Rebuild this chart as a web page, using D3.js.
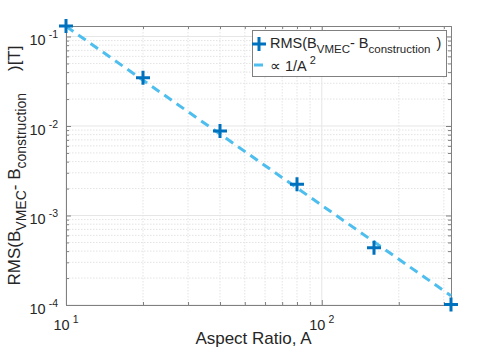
<!DOCTYPE html>
<html>
<head>
<meta charset="utf-8">
<script src="https://cdn.jsdelivr.net/npm/d3@7"></script>
<style>
  body { margin: 0; background: #fff; }
  text { font-family: "Liberation Sans", Arial, sans-serif; fill: #262626; }
</style>
</head>
<body>
<svg id="chart" width="498" height="354"></svg>
<script>
// data
const aspectRatio = [10, 20, 40, 80, 160, 320];
const rmsError = [0.131, 0.0347, 0.0088, 0.00224, 0.000436, 0.000101];
const fitConst = 13; // ∝ 1/A^2
const xMajor = [10, 100];
const yMajor = [1e-4, 1e-3, 1e-2, 1e-1];

const svg = d3.select('#chart');
const pL = 66, pR = 451, pT = 26, pB = 305;

const x = d3.scaleLog().domain([10, 320]).range([pL, pR]);
const y = d3.scaleLog().domain([1e-4, 0.131]).range([pB, pT]);

const xMinor = [];
for (let d = 10; d <= 100; d *= 10)
  for (let k = 2; k <= 9; k++) if (k * d <= 320) xMinor.push(k * d);
const yMinor = [];
for (let d = 1e-4; d < 0.1; d *= 10)
  for (let k = 2; k <= 9; k++) yMinor.push(k * d);

// grid
const grid = svg.append('g');
grid.selectAll('.xminor').data(xMinor).enter().append('line')
  .attr('x1', d => x(d)).attr('x2', d => x(d)).attr('y1', pT).attr('y2', pB)
  .attr('stroke', '#e3e3e3').attr('stroke-dasharray', '1.5,1.5').attr('stroke-width', 1);
grid.selectAll('.yminor').data(yMinor).enter().append('line')
  .attr('y1', d => y(d)).attr('y2', d => y(d)).attr('x1', pL).attr('x2', pR)
  .attr('stroke', '#e3e3e3').attr('stroke-dasharray', '1.5,1.5').attr('stroke-width', 1);
grid.selectAll('.xmajor').data(xMajor).enter().append('line')
  .attr('x1', d => x(d)).attr('x2', d => x(d)).attr('y1', pT).attr('y2', pB)
  .attr('stroke', '#e6e6e6').attr('stroke-width', 1);
grid.selectAll('.ymajor').data(yMajor).enter().append('line')
  .attr('y1', d => y(d)).attr('y2', d => y(d)).attr('x1', pL).attr('x2', pR)
  .attr('stroke', '#e6e6e6').attr('stroke-width', 1);

// axes with inward ticks on all sides
function styleAxis(g) {
  g.selectAll('text').remove();
  g.select('.domain').attr('stroke', '#808080');
  g.selectAll('.tick line').attr('stroke', '#808080');
}
svg.append('g').attr('transform', `translate(0,${pB})`)
  .call(d3.axisBottom(x).tickValues(xMajor).tickSize(-5).tickSizeOuter(0)).call(styleAxis);
svg.append('g').attr('transform', `translate(0,${pB})`)
  .call(d3.axisBottom(x).tickValues(xMinor).tickSize(-3).tickSizeOuter(0)).call(styleAxis);
svg.append('g').attr('transform', `translate(0,${pT})`)
  .call(d3.axisTop(x).tickValues(xMajor).tickSize(-5).tickSizeOuter(0)).call(styleAxis);
svg.append('g').attr('transform', `translate(0,${pT})`)
  .call(d3.axisTop(x).tickValues(xMinor).tickSize(-3).tickSizeOuter(0)).call(styleAxis);
svg.append('g').attr('transform', `translate(${pL},0)`)
  .call(d3.axisLeft(y).tickValues(yMajor).tickSize(-5).tickSizeOuter(0)).call(styleAxis);
svg.append('g').attr('transform', `translate(${pL},0)`)
  .call(d3.axisLeft(y).tickValues(yMinor).tickSize(-3).tickSizeOuter(0)).call(styleAxis);
svg.append('g').attr('transform', `translate(${pR},0)`)
  .call(d3.axisRight(y).tickValues(yMajor).tickSize(-5).tickSizeOuter(0)).call(styleAxis);
svg.append('g').attr('transform', `translate(${pR},0)`)
  .call(d3.axisRight(y).tickValues(yMinor).tickSize(-3).tickSizeOuter(0)).call(styleAxis);

// tick labels 10^n
svg.selectAll('.xlab').data(xMajor).enter().append('text')
  .attr('x', d => x(d)).attr('y', pB + 25).attr('text-anchor', 'middle')
  .style('font-size', '14.5px')
  .each(function (d) {
    const t = d3.select(this);
    t.append('tspan').text('10');
    t.append('tspan').attr('dx', 3).attr('dy', -7).style('font-size', '10.5px').text(Math.round(Math.log10(d)));
  });
svg.selectAll('.ylab').data(yMajor).enter().append('text')
  .attr('x', pL - 8).attr('y', d => y(d) + 9).attr('text-anchor', 'end')
  .style('font-size', '14.5px')
  .each(function (d) {
    const t = d3.select(this);
    t.append('tspan').text('10');
    t.append('tspan').attr('dx', 3).attr('dy', -7).style('font-size', '10.5px').text(Math.round(Math.log10(d)));
  });

// axis labels
svg.append('text').attr('x', (pL + pR) / 2 - 5).attr('y', 344)
  .attr('text-anchor', 'middle').style('font-size', '17px').text('Aspect Ratio, A');

const yl = svg.append('text')
  .attr('transform', `translate(20,${(pT + pB) / 2}) rotate(-90)`)
  .attr('text-anchor', 'middle').style('font-size', '17px');
yl.append('tspan').text('RMS(B');
yl.append('tspan').attr('dy', 6).style('font-size', '14px').text('VMEC');
yl.append('tspan').attr('dy', -6).text('- B');
yl.append('tspan').attr('dy', 6).style('font-size', '14px').text('construction');
yl.append('tspan').attr('dy', -6).attr('dx', 22).text(')[T]');

// fit line
const line = d3.line().x(d => x(d)).y(d => y(fitConst / (d * d)));
svg.append('path').datum(aspectRatio).attr('d', line)
  .attr('fill', 'none').attr('stroke', '#4DBEEE').attr('stroke-width', 3)
  .attr('stroke-dasharray', '9,6');

// markers
svg.selectAll('.pt').data(aspectRatio).enter().append('path')
  .attr('transform', (d, i) => `translate(${x(d)},${y(rmsError[i])})`)
  .attr('d', 'M-7,0H7M0,-7V7')
  .attr('stroke', '#0072BD').attr('stroke-width', 3).attr('fill', 'none');

// legend
const lg = svg.append('g');
lg.append('rect').attr('x', 252.5).attr('y', 30.5).attr('width', 194).attr('height', 46)
  .attr('fill', '#fff').attr('stroke', '#808080').attr('stroke-width', 1);
lg.append('path').attr('d', 'M252,44H266M259,37V51')
  .attr('stroke', '#0072BD').attr('stroke-width', 3);
const l1 = lg.append('text').attr('x', 270).attr('y', 48).style('font-size', '14.5px');
l1.append('tspan').text('RMS(B');
l1.append('tspan').attr('dy', 5).style('font-size', '11.5px').text('VMEC');
l1.append('tspan').attr('dy', -5).text('- B');
l1.append('tspan').attr('dy', 5).style('font-size', '11.5px').text('construction');
l1.append('tspan').attr('dy', -5).attr('dx', 6).text(')');
lg.append('line').attr('x1', 254).attr('x2', 263).attr('y1', 65).attr('y2', 65)
  .attr('stroke', '#4DBEEE').attr('stroke-width', 3);
const l2 = lg.append('text').attr('x', 270).attr('y', 71).style('font-size', '14.5px');
l2.append('tspan').text('\u221D 1/A');
l2.append('tspan').attr('dx', 3).attr('dy', -7).style('font-size', '11px').text('2');
</script>
</body>
</html>
